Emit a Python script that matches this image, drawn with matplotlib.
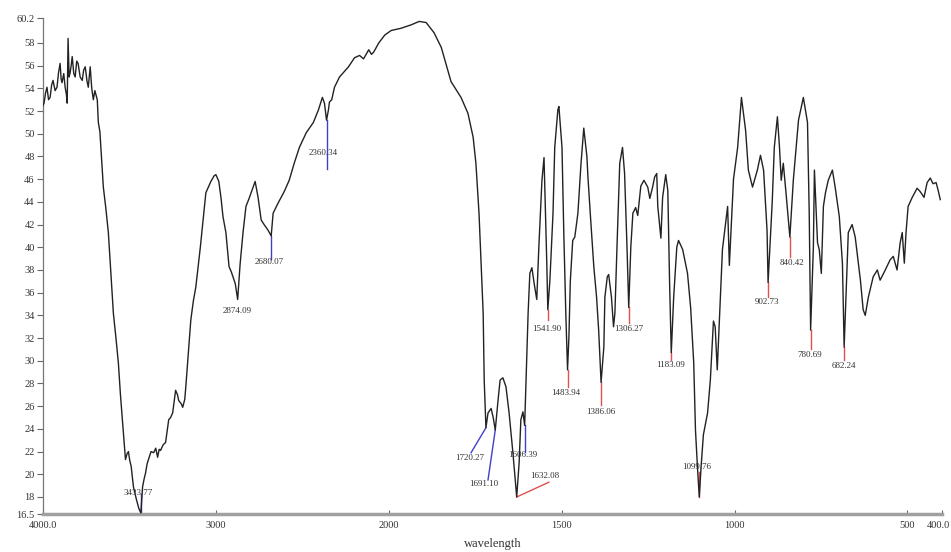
import numpy as np
import matplotlib
matplotlib.use("Agg")
import matplotlib.pyplot as plt
import matplotlib.transforms as mtransforms

# ---------------- data ----------------
wavenumber = [
    4000, 3994, 3985, 3977, 3968, 3959, 3950, 3942, 3930, 3919, 3910, 3901, 3895, 3890,
    3880, 3872, 3865, 3860, 3855, 3849, 3843, 3837, 3831, 3822, 3814, 3805, 3797, 3785,
    3773, 3765, 3756, 3745, 3738, 3727, 3718, 3709, 3700, 3686, 3680, 3671, 3663, 3651,
    3637, 3622, 3608, 3593, 3578, 3564, 3552, 3541, 3530, 3523, 3514, 3506, 3498, 3490,
    3477, 3460, 3446, 3434, 3424, 3415, 3407, 3398, 3390, 3375, 3360, 3348, 3337, 3328,
    3320, 3305, 3291, 3273, 3262, 3250, 3233, 3222, 3215, 3200, 3192, 3180, 3174, 3160,
    3145, 3130, 3116, 3105, 3090, 3070, 3058, 3029, 3010, 3000, 2983, 2970, 2959, 2942,
    2924, 2910, 2901, 2888, 2874, 2860, 2843, 2826, 2808, 2785, 2773, 2756, 2738, 2721,
    2698, 2680, 2669, 2640, 2605, 2576, 2547, 2517, 2477, 2436, 2407, 2384, 2372, 2360,
    2349, 2343, 2330, 2314, 2285, 2233, 2198, 2169, 2146, 2116, 2100, 2087, 2058, 2023,
    1993, 1964, 1935, 1912, 1892, 1869, 1848, 1820, 1791, 1771, 1756, 1748, 1739, 1733,
    1727, 1724, 1719, 1713, 1704, 1698, 1692, 1684, 1678, 1670, 1661, 1652, 1641, 1630,
    1623, 1618, 1612, 1607, 1603, 1597, 1592, 1586, 1580, 1572, 1566, 1557, 1551, 1548,
    1543, 1540, 1534, 1525, 1520, 1511, 1508, 1499, 1494, 1488, 1483, 1479, 1475, 1468,
    1462, 1453, 1444, 1436, 1427, 1424, 1416, 1407, 1399, 1393, 1386, 1378, 1375, 1368,
    1364, 1356, 1350, 1346, 1340, 1332, 1324, 1318, 1311, 1306, 1300, 1294, 1286, 1280,
    1271, 1262, 1251, 1245, 1237, 1231, 1225, 1222, 1213, 1208, 1199, 1193, 1188, 1183,
    1176, 1167, 1162, 1150, 1136, 1127, 1118, 1113, 1107, 1102, 1096, 1090, 1078, 1070,
    1061, 1056, 1050, 1035, 1020, 1015, 1003, 991, 980, 968, 960, 948, 934, 925,
    916, 906, 903, 891, 885, 876, 870, 865, 859, 850, 840, 830, 815, 801,
    789, 784, 780, 772, 769, 760, 755, 749, 743, 737, 729, 717, 709, 697,
    688, 683, 674, 671, 660, 651, 636, 628, 622, 613, 599, 587, 579, 564,
    550, 541, 530, 521, 515, 509, 504, 498, 486, 472, 463, 452, 443, 434,
    426, 417, 411, 405,
]
transmittance = [
    52.5, 52.7, 53.6, 54.1, 53.0, 53.2, 54.3, 54.7, 53.8, 54.1, 55.4, 56.2, 54.8, 54.5,
    55.3, 54.1, 53.5, 52.7, 58.4, 55.0, 55.4, 56.0, 56.8, 55.3, 55.0, 56.4, 56.2, 55.0,
    54.7, 55.6, 55.9, 54.6, 54.1, 55.9, 54.0, 53.0, 53.8, 53.0, 51.0, 50.2, 48.3, 45.3,
    43.5, 41.3, 37.8, 34.2, 32.0, 29.8, 27.0, 24.8, 22.5, 21.3, 21.8, 22.0, 21.2, 20.7,
    18.9, 17.8, 17.0, 16.6, 18.9, 19.6, 20.1, 20.9, 21.3, 22.0, 21.9, 22.3, 21.5, 22.2,
    22.1, 22.6, 22.8, 24.8, 25.0, 25.4, 27.4, 27.0, 26.5, 26.2, 25.9, 26.6, 27.7, 30.5,
    33.6, 35.3, 36.5, 38.0, 40.0, 43.0, 44.8, 45.8, 46.3, 46.4, 45.8, 44.3, 42.7, 41.3,
    38.3, 37.8, 37.4, 36.8, 35.4, 38.5, 41.3, 43.6, 44.3, 45.3, 45.8, 44.4, 42.4, 42.0,
    41.5, 41.0, 43.0, 43.9, 44.9, 45.9, 47.4, 48.8, 50.1, 51.0, 52.1, 53.2, 52.7, 51.2,
    52.1, 52.8, 53.0, 54.1, 55.0, 55.9, 56.7, 56.9, 56.6, 57.4, 57.0, 57.2, 58.0, 58.7,
    59.1, 59.3, 59.6, 59.9, 59.8, 58.9, 57.6, 54.6, 53.2, 51.8, 49.7, 47.4, 43.0, 38.6,
    34.2, 28.3, 24.1, 25.4, 25.8, 25.0, 23.9, 26.5, 28.3, 28.5, 27.7, 25.4, 21.9, 18.0,
    21.0, 24.8, 25.5, 24.3, 28.3, 34.2, 37.7, 38.2, 36.9, 35.4, 40.0, 45.9, 47.9, 44.4,
    38.6, 34.5, 37.1, 43.0, 48.8, 52.1, 52.4, 48.8, 41.5, 34.2, 29.2, 32.1, 37.0, 40.6,
    40.9, 43.0, 47.4, 50.5, 48.0, 46.2, 42.4, 38.3, 35.6, 32.7, 28.1, 31.2, 35.6, 37.4,
    37.6, 35.6, 33.0, 34.2, 40.0, 47.4, 48.8, 46.5, 40.0, 34.7, 40.0, 43.0, 43.5, 42.8,
    45.4, 45.9, 45.3, 44.3, 45.3, 46.2, 46.5, 43.6, 40.8, 44.4, 46.4, 45.0, 37.1, 30.7,
    35.6, 40.0, 40.6, 39.8, 37.7, 34.7, 29.8, 23.9, 20.5, 18.0, 21.0, 23.5, 25.4, 28.3,
    33.5, 33.0, 29.2, 39.8, 43.6, 38.4, 46.0, 48.8, 53.2, 50.3, 46.8, 45.3, 46.8, 48.1,
    46.8, 41.5, 36.9, 44.0, 48.8, 51.5, 48.8, 45.9, 47.4, 44.4, 40.9, 45.9, 51.2, 53.2,
    51.0, 43.0, 32.7, 40.0, 46.8, 40.4, 39.8, 37.7, 43.6, 44.8, 45.9, 46.8, 45.3, 42.7,
    38.6, 31.2, 38.6, 41.3, 42.0, 40.9, 37.1, 34.5, 34.0, 35.6, 37.4, 38.0, 37.1, 38.0,
    38.9, 39.2, 38.0, 40.4, 41.3, 38.6, 41.3, 43.6, 44.4, 45.2, 44.9, 44.4, 45.7, 46.1,
    45.6, 45.7, 45.0, 44.2,
]

# peak annotations
peak_labels = ["3433.77", "2874.09", "2680.07", "2360.34", "1720.27", "1691.10",
               "1606.39", "1632.08", "1541.90", "1483.94", "1386.06", "1306.27",
               "1183.09", "1099.76", "902.73", "840.42", "780.69", "682.24"]
peak_wn = [3434, 2874, 2680, 2360, 1719, 1692, 1607, 1630, 1540, 1483, 1386, 1306,
           1183, 1102, 903, 840, 780, 683]
peak_t = [16.5, 35.4, 41.0, 51.2, 24.1, 23.9, 24.3, 18.0, 34.5, 29.2, 28.1, 34.7,
          30.7, 18.0, 36.9, 40.9, 32.7, 31.2]

xtick_vals = [4000, 3000, 2000, 1500, 1000, 500, 400]
xtick_text = ["4000.0", "3000", "2000", "1500", "1000", "500", "400.0"]
ytick_vals = [60.2, 58, 56, 54, 52, 50, 48, 46, 44, 42, 40, 38, 36, 34, 32, 30,
              28, 26, 24, 22, 20, 18, 16.5]
ytick_text = ["60.2", "58", "56", "54", "52", "50", "48", "46", "44", "42", "40",
              "38", "36", "34", "32", "30", "28", "26", "24", "22", "20", "18", "16.5"]

# ---------------- styling / geometry (not data) ----------------
BLUE = "#4040c8"
RED = "#e05050"
# (line end wn, line end T, label wn, label T, colour or None)
ann_geom = [
    (3434, 18.3, 3448, 18.35, BLUE),
    (None, None, 2878, 34.4, None),
    (2680, 39.0, 2692, 38.7, BLUE),
    (2360, 46.9, 2378, 48.3, BLUE),
    (1762, 21.9, 1765, 21.4, BLUE),
    (1713, 19.5, 1724, 19.1, BLUE),
    (1607, 22.0, 1612, 21.7, BLUE),
    (1537, 19.3, 1548, 19.85, RED),
    (1540, 33.6, 1542, 32.8, RED),
    (1483, 27.7, 1488, 27.2, RED),
    (1386, 26.1, 1387, 25.5, RED),
    (1306, 33.3, 1306, 32.8, RED),
    (1183, 30.1, 1185, 29.6, RED),
    (1102, 20.2, 1110, 20.6, RED),
    (903, 35.6, 907, 35.2, RED),
    (840, 39.1, 834, 38.6, RED),
    (780, 31.0, 782, 30.5, RED),
    (683, 30.1, 684, 29.5, RED),
]

plt.rcParams['font.family'] = ['Liberation Serif', 'DejaVu Serif']

fig = plt.figure(figsize=(9.51, 5.52), dpi=100)
ax = fig.add_axes([43 / 951, 1 - 514 / 552, (942 - 43) / 951, (514 - 18) / 552])


def fwd(w):
    w = np.asarray(w, float)
    return np.where(w > 2000, 2000 + (w - 2000) / 2.0, w)


def inv(u):
    u = np.asarray(u, float)
    return np.where(u > 2000, 2000 + (u - 2000) * 2.0, u)


ax.set_xscale('function', functions=(fwd, inv))
ax.plot(wavenumber, transmittance, color="#222222", lw=1.0, zorder=3)
ax.set_xlim(4000, 400)
ax.set_ylim(16.5, 60.2)

for lab, pw, pt, g in zip(peak_labels, peak_wn, peak_t, ann_geom):
    lw_, lt_, tw, tt, col = g
    if col is not None:
        ax.plot([pw, lw_], [pt, lt_], color=col, lw=1.0, zorder=2, clip_on=False)
    ax.text(tw, tt, lab, fontsize=6.5, ha='center', va='center', color="#333333",
            zorder=4)

ax.set_xticks(xtick_vals)
ax.set_xticklabels(xtick_text, fontsize=7.5, color="#333333")
ax.set_yticks(ytick_vals)
ax.set_yticklabels(ytick_text, fontsize=7.5, color="#333333")
ax.minorticks_off()
ax.tick_params(axis='y', direction='out', length=4, width=0.8, color="#666666", pad=2)
ax.tick_params(axis='x', direction='in', length=3, width=0.8, color="#666666", pad=5)

# keep the last x tick label inside the figure
last = ax.get_xticklabels()[-1]
last.set_horizontalalignment('right')
last.set_transform(last.get_transform() +
                   mtransforms.ScaledTranslation(8 / 100, 0, fig.dpi_scale_trans))

for s in ['top', 'right']:
    ax.spines[s].set_visible(False)
ax.spines['left'].set_color("#777777")
ax.spines['left'].set_linewidth(0.9)
ax.spines['bottom'].set_color("#a0a0a0")
ax.spines['bottom'].set_linewidth(2.5)

ax.set_xlabel("wavelength", fontsize=9, color="#333333", labelpad=6)

fig.savefig("out.png", dpi=100)
